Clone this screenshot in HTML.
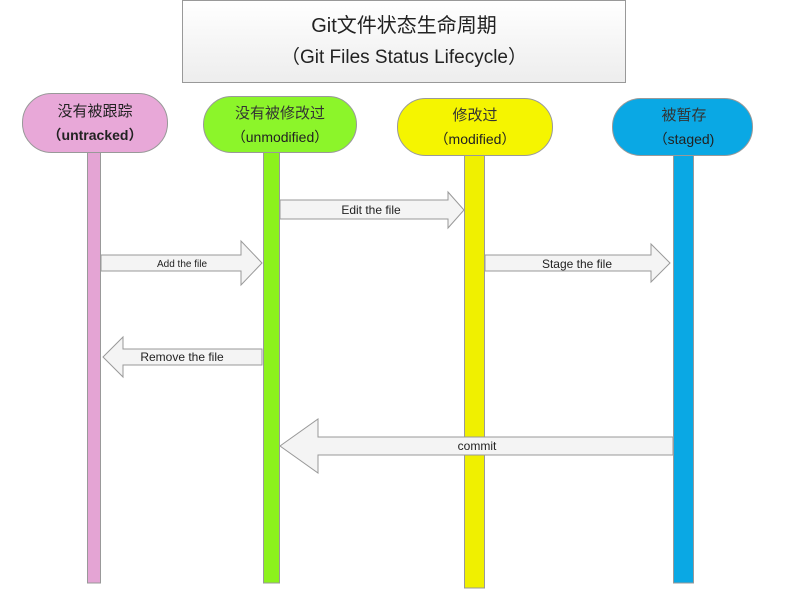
<!DOCTYPE html>
<html><head><meta charset="utf-8"><style>
html,body{margin:0;padding:0;background:#fff;}
svg{display:block;font-family:"Liberation Sans","Noto Sans CJK SC",sans-serif;}
</style></head><body>
<svg width="805" height="591" viewBox="0 0 805 591" xmlns="http://www.w3.org/2000/svg">
<defs>
<linearGradient id="tb" x1="0" y1="0" x2="0" y2="1"><stop offset="0" stop-color="#ffffff"/><stop offset="1" stop-color="#ededed"/></linearGradient>
</defs>
<!-- title -->
<rect x="182.5" y="0.5" width="443" height="82" fill="url(#tb)" stroke="#999"/>
<text x="404" y="32" font-size="20" text-anchor="middle" fill="#222">Git文件状态生命周期</text>
<text x="404" y="63" font-size="19" text-anchor="middle" fill="#222">（Git Files Status Lifecycle）</text>

<!-- bars -->
<rect x="87.5" y="150" width="13" height="433" fill="#e4a4d4" stroke="#999"/>
<rect x="263.5" y="150" width="16" height="433" fill="#8cf21c" stroke="#999"/>
<rect x="464.5" y="153" width="20" height="435" fill="#f0f000" stroke="#999"/>
<rect x="673.5" y="153" width="20" height="430" fill="#0aa8e4" stroke="#999"/>

<!-- nodes -->
<rect x="22.5" y="93.5" width="145" height="59" rx="29" fill="#e8a8d8" stroke="#999"/>
<text x="95" y="116" font-size="15" text-anchor="middle" fill="#222">没有被跟踪</text>
<text x="95" y="140" font-size="14" text-anchor="middle" fill="#222" font-weight="bold">（untracked）</text>

<rect x="203.5" y="96.5" width="153" height="56" rx="28" fill="#8cf52a" stroke="#999"/>
<text x="280" y="118" font-size="15" text-anchor="middle" fill="#333">没有被修改过</text>
<text x="280" y="142" font-size="14" text-anchor="middle" fill="#222">（unmodified）</text>

<rect x="397.5" y="98.5" width="155" height="57" rx="28" fill="#f5f500" stroke="#999"/>
<text x="475" y="120" font-size="15" text-anchor="middle" fill="#333">修改过</text>
<text x="475" y="144" font-size="14" text-anchor="middle" fill="#222">（modified）</text>

<rect x="612.5" y="98.5" width="140" height="57" rx="28" fill="#0aa8e4" stroke="#999"/>
<text x="684" y="120" font-size="15" text-anchor="middle" fill="#333">被暂存</text>
<text x="684" y="144" font-size="14" text-anchor="middle" fill="#222">（staged)</text>

<!-- arrows -->
<g fill="#f4f4f4" stroke="#999" stroke-width="1">
<polygon points="280,200 448,200 448,192 464,210 448,228 448,219 280,219"/>
<polygon points="101,255 241,255 241,241 262,263 241,285 241,271 101,271"/>
<polygon points="485,255 651,255 651,244 670,263 651,282 651,271 485,271"/>
<polygon points="262,349 123,349 123,337 103,357 123,377 123,365 262,365"/>
<polygon points="673,437 318,437 318,419 280,446 318,473 318,455 673,455"/>
</g>
<g font-size="12" fill="#222" text-anchor="middle">
<text x="371" y="214">Edit the file</text>
<text x="182" y="267" font-size="10">Add the file</text>
<text x="577" y="268">Stage the file</text>
<text x="182" y="361">Remove the file</text>
<text x="477" y="450">commit</text>
</g>
</svg>
</body></html>
